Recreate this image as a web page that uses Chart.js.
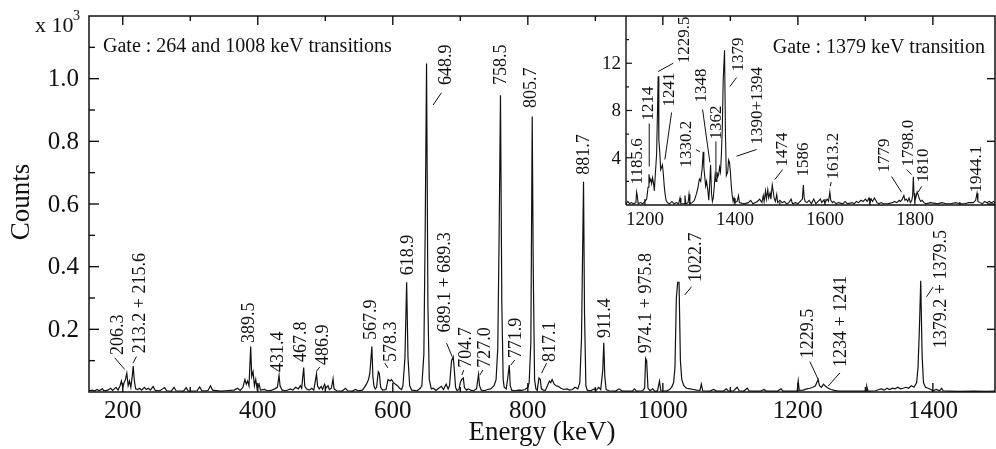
<!DOCTYPE html>
<html>
<head>
<meta charset="utf-8">
<script src="https://cdn.jsdelivr.net/npm/chart.js@4.4.1/dist/chart.umd.min.js"></script>
<style>
  html, body { margin: 0; padding: 0; background: #fff; overflow: hidden; }
  #wrap { position: relative; width: 996px; height: 449px; }
  #inset { position: absolute; left: 580px; top: 0; z-index: 1; }
  #main { position: absolute; left: 0; top: 0; z-index: 2; }
</style>
</head>
<body>
<div id="wrap">
  <canvas id="inset" width="416" height="240"></canvas>
  <canvas id="main" width="996" height="449"></canvas>
</div>
<script>
// ---------------- DATA: main spectrum (energy keV, counts x10^3) ----------------
const mainEnergy = [
  150,155,158,162,165,170,172,178,182,185,190,193,196,198,200,202,204,206,208,210,
  212,214,215.5,217,219,222,225,228,232,235,238,241,245,248,255,262,265,272,276,279,
  290,294,297,310,314,317,326,330,333,345,352,365,370,374,378,381,383,385,387,389.5,
  391,393,395,397,399,402,404,410,414,420,425,429,431.5,433,436,442,448,452,456,460,
  463,465,468,469.5,472,476,480,483,487,488.5,491,494,496,499,501,504,506,509,511.5,513,
  517,525,530,533,540,545,548,555,558,561,564,566,569,570.5,572,574,576,578.5,580,582,
  585,590,593,596,598,601,604,607,610,613,615,618,620.5,622.5,625,628,632,636,640,643,
  646,648,650,652,654,657,660,664,668,672,675,679,682,684,687,689.5,691.5,693,695,698,
  700,702,704.5,706,709,712,716,720,724,727,728.5,731,736,740,745,750,753,755.5,757.5,759.5,
  761.5,763.5,765,768,770,772.5,774,776,781,786,791,796,800,802,804.5,806.5,808,810,812,814,
  816.5,818.5,820,823,826,829,832,834,836,839,842,845,849,853,858,862,866,870,874,877,
  879.5,882.5,884,886,888,893,898,901,905,908,911,912.5,914,916,920,930,935,940,955,958,
  961,970,973,974.5,976,978,981,985,988,992,995,997,1005,1010,1013,1016,1018,1020,1022,1024,
  1026,1028,1031,1035,1040,1045,1050,1055,1057,1059,1070,1075,1080,1090,1094,1097,1105,1110,1113,1120,
  1125,1128,1145,1150,1153,1170,1175,1178,1195,1199,1200.5,1202,1208,1213,1218,1222,1226,1230,1232,1235,
  1238,1241,1245,1249,1254,1260,1275,1290,1301,1302,1304,1315,1320,1324,1328,1332,1336,1340,1344,1348,
  1352,1356,1360,1364,1368,1372,1376,1378,1380,1382,1384,1386,1389,1393,1397,1400,1405,1410,1413,1415,
  1425,1440,1460,1480,1492
];
const mainCounts = [
  0.004,0.006,0.003,0.008,0.004,0.010,0.004,0.006,0.012,0.005,0.015,0.006,0.020,0.035,0.015,0.030,0.040,0.060,0.020,0.035,
  0.015,0.050,0.083,0.040,0.010,0.008,0.012,0.006,0.015,0.008,0.012,0.006,0.018,0.005,0.004,0.014,0.004,0.003,0.015,0.004,
  0.003,0.014,0.003,0.004,0.016,0.004,0.004,0.020,0.006,0.003,0.004,0.006,0.012,0.005,0.015,0.040,0.025,0.035,0.020,0.145,
  0.050,0.065,0.020,0.040,0.010,0.025,0.006,0.008,0.004,0.005,0.010,0.015,0.053,0.020,0.006,0.004,0.010,0.006,0.015,0.010,
  0.020,0.012,0.078,0.020,0.010,0.006,0.012,0.006,0.058,0.020,0.010,0.018,0.008,0.025,0.012,0.020,0.008,0.012,0.042,0.010,
  0.004,0.003,0.012,0.004,0.003,0.008,0.004,0.006,0.015,0.025,0.040,0.060,0.145,0.050,0.020,0.010,0.015,0.065,0.060,0.015,
  0.006,0.008,0.040,0.035,0.040,0.030,0.025,0.020,0.012,0.008,0.020,0.110,0.350,0.110,0.020,0.006,0.005,0.004,0.010,0.020,
  0.120,0.520,1.048,0.280,0.040,0.010,0.012,0.005,0.012,0.018,0.008,0.025,0.010,0.020,0.100,0.112,0.060,0.015,0.005,0.008,
  0.030,0.040,0.045,0.015,0.006,0.010,0.005,0.004,0.010,0.056,0.020,0.006,0.004,0.008,0.010,0.020,0.040,0.140,0.500,0.947,
  0.280,0.040,0.015,0.010,0.040,0.086,0.020,0.006,0.004,0.006,0.005,0.008,0.015,0.030,0.160,0.879,0.400,0.040,0.010,0.005,
  0.045,0.040,0.010,0.006,0.005,0.020,0.035,0.030,0.040,0.025,0.020,0.018,0.012,0.008,0.010,0.006,0.008,0.015,0.010,0.030,
  0.170,0.671,0.250,0.020,0.006,0.004,0.010,0.005,0.015,0.008,0.070,0.157,0.050,0.008,0.004,0.003,0.010,0.003,0.003,0.010,
  0.003,0.004,0.012,0.107,0.100,0.012,0.004,0.010,0.003,0.003,0.035,0.004,0.003,0.008,0.015,0.030,0.080,0.300,0.350,0.350,
  0.100,0.040,0.020,0.012,0.010,0.008,0.006,0.005,0.025,0.004,0.003,0.008,0.003,0.003,0.010,0.003,0.004,0.015,0.004,0.003,
  0.012,0.003,0.003,0.008,0.003,0.003,0.010,0.003,0.003,0.003,0.035,0.005,0.006,0.010,0.012,0.015,0.020,0.040,0.020,0.015,
  0.025,0.018,0.012,0.008,0.005,0.003,0.003,0.003,0.003,0.018,0.003,0.004,0.008,0.010,0.006,0.012,0.008,0.012,0.010,0.015,
  0.010,0.012,0.015,0.012,0.020,0.015,0.030,0.080,0.200,0.355,0.120,0.030,0.015,0.012,0.008,0.004,0.008,0.004,0.012,0.004,
  0.003,0.002,0.003,0.002,0.003
];

// ---------------- DATA: inset spectrum (energy keV, counts) ----------------
const insetEnergy = [
  1158,1162,1166,1170,1175,1180,1181.5,1183,1185,1190,1195,1200,1204,1207,1209,1211,1213,1215,1217,1219,
  1221,1223,1226,1228,1229.5,1231,1233,1235,1237,1239,1241,1243,1245,1247,1250,1255,1260,1265,1270,1275,
  1278,1280,1287,1289,1291,1296,1298,1300,1305,1310,1315,1318,1321,1324,1327,1329.5,1331,1333,1335,1337,
  1340,1342,1344,1346,1348,1350,1352,1354,1356,1358,1360,1362,1364,1366,1368,1370,1372,1374,1377,1379,
  1381,1384,1386,1388,1390,1392,1394,1396,1398,1400,1405,1408,1410,1420,1430,1435,1440,1450,1455,1460,
  1463,1465,1468,1470,1473,1475,1478,1480,1483,1485,1487,1490,1493,1495,1500,1505,1510,1515,1520,1525,
  1528,1535,1540,1545,1550,1552,1554,1556,1560,1565,1570,1575,1580,1585,1590,1593,1597,1600,1605,1608,
  1611,1613,1617,1620,1625,1630,1640,1645,1650,1660,1665,1670,1675,1680,1685,1690,1694,1698,1700,1703,
  1706,1710,1713,1716,1720,1725,1730,1740,1750,1755,1760,1765,1768,1772,1775.5,1778,1781,1784,1787,1790,
  1793,1795,1796.5,1798,1800,1802,1805,1807,1810,1813,1816,1820,1825,1835,1850,1860,1870,1880,1890,1900,
  1910,1920,1930,1935,1938,1940,1945,1950,1955,1960,1965,1970,1975,1978
];
const insetCounts = [
  0.1,0.3,0.1,0.2,0.1,0.2,1.1,0.8,0.1,0.2,0.1,0.3,0.5,1.5,2.6,2.0,2.2,1.8,2.3,1.9,
  1.2,2.5,4.3,8.0,10.9,5.5,4.5,3.0,3.2,3.4,2.6,1.6,0.9,0.4,0.2,0.1,0.3,0.1,0.2,0.1,
  0.6,0.1,0.1,0.8,0.1,0.2,0.9,0.1,0.2,0.4,1.0,1.5,2.2,2.0,3.0,4.5,3.2,2.4,1.6,2.0,
  1.2,0.4,1.8,3.4,1.0,0.3,0.6,1.5,2.5,2.0,2.8,2.4,2.6,3.2,2.8,4.3,6.5,10.6,13.1,6.0,
  2.5,2.8,3.8,3.6,2.8,1.6,0.8,0.3,0.6,0.2,0.3,0.8,0.2,0.1,0.2,0.4,0.1,0.3,0.5,0.2,
  0.8,0.3,1.2,0.5,1.3,0.6,1.0,0.5,1.7,1.2,0.6,0.3,0.9,0.2,0.4,0.2,0.3,0.1,0.2,0.5,
  0.1,0.2,0.1,0.3,0.5,1.7,0.6,0.3,0.2,0.4,0.1,0.5,0.1,0.3,0.5,0.2,0.4,0.2,0.5,0.3,
  1.1,0.4,0.2,0.3,0.1,0.2,0.1,0.3,0.1,0.2,0.1,0.3,0.2,0.4,0.3,0.5,0.3,0.6,0.2,0.5,
  0.3,0.6,0.4,0.2,0.1,0.2,0.1,0.1,0.2,0.3,0.2,0.4,0.3,0.5,0.8,0.4,0.5,0.3,0.6,0.2,
  0.4,0.8,2.4,1.0,0.4,0.6,1.1,0.9,0.5,0.3,0.4,0.2,0.1,0.2,0.1,0.2,0.1,0.1,0.2,0.1,
  0.1,0.2,0.2,0.4,1.0,0.3,0.2,0.1,0.3,0.2,0.3,0.2,0.3,0.2
];

// ---------------- TICKS ----------------
const mainXTicks = [200, 400, 600, 800, 1000, 1200, 1400];
const mainXMinor = [300, 500, 700, 900, 1100, 1300];
const mainYTicks = [0.2, 0.4, 0.6, 0.8, 1.0];
const mainYTickLabels = ['0.2', '0.4', '0.6', '0.8', '1.0'];
const mainYMinor = [0.1, 0.3, 0.5, 0.7, 0.9, 1.1];
const insetXTicks = [1200, 1400, 1600, 1800];
const insetXMinor = [1300, 1500, 1700, 1900];
const insetYTicks = [4, 8, 12];
const insetYMinor = [2, 6, 10, 14];

// ---------------- PEAK LABELS ----------------
const mainPeakText = ['206.3','213.2 + 215.6','389.5','431.4','467.8','486.9','567.9','578.3','618.9','648.9',
  '689.1 + 689.3','704.7','727.0','758.5','771.9','805.7','817.1','881.7','911.4','974.1 + 975.8',
  '1022.7','1229.5','1234 + 1241','1379.2 + 1379.5'];
const insetPeakText = ['1185.6','1214','1229.5','1241','1330.2','1348','1362','1379','1390+1394','1474',
  '1586','1613.2','1779','1798.0','1810','1944.1'];

// label anchors (energy, count) = bottom-centre of the rotated text; optional leader line
const mainLabelLayout = [
  {e:193, v:0.118, l:[188.1,0.109,203,0.072]},
  {e:225.2, v:0.124, l:[220.3,0.113,215,0.092]},
  {e:388.1, v:0.156},
  {e:430.1, v:0.064},
  {e:464.7, v:0.096},
  {e:496.7, v:0.086, l:[491.9,0.080,487.4,0.067]},
  {e:568.4, v:0.166},
  {e:598, v:0.096, l:[588.1,0.092,592.6,0.077]},
  {e:622.7, v:0.373},
  {e:679.6, v:0.98, l:[672.1,0.955,659.7,0.916]},
  {e:677, v:0.19, l:[679.6,0.156,687.9,0.113]},
  {e:709.2, v:0.077, l:[705.2,0.070,702.2,0.054]},
  {e:736.3, v:0.077, l:[733.3,0.070,728.9,0.054]},
  {e:761, v:0.98},
  {e:783.3, v:0.108, l:[780.7,0.102,774.8,0.086]},
  {e:804.4, v:0.906},
  {e:832.6, v:0.096, l:[827.7,0.092,820.3,0.060]},
  {e:883.4, v:0.693},
  {e:914.1, v:0.172},
  {e:975.8, v:0.124},
  {e:1049.9, v:0.351, l:[1042.5,0.336,1032.6,0.310]},
  {e:1215.3, v:0.108, l:[1217.8,0.097,1230.1,0.040]},
  {e:1264.7, v:0.080, l:[1262.2,0.061,1244.9,0.019]},
  {e:1412.8, v:0.140, l:[1400.4,0.335,1390.6,0.304]}
];
const insetLabelLayout = [
  {e:1184.4, v:1.74},
  {e:1207.3, v:7.15, l:[1209.6,6.9,1209.6,3.26]},
  {e:1287.3, v:12.0, l:[1262.9,12.0,1229.6,11.3]},
  {e:1255.6, v:8.34, l:[1259.3,7.83,1244.4,3.85]},
  {e:1292.7, v:3.18, l:[1313.3,4.7,1322.2,4.5]},
  {e:1326, v:8.68, l:[1328.2,8.09,1344.4,3.6]},
  {e:1359.3, v:5.55, l:[1357.8,5.38,1357.8,2.41]},
  {e:1408.9, v:11.3, l:[1403.8,10.8,1388.9,10.03]},
  {e:1450.4, v:5.12, l:[1448.2,4.7,1403.8,4.13]},
  {e:1506, v:3.26, l:[1506,3.0,1488.9,2.16]},
  {e:1551.8, v:2.41},
  {e:1618.4, v:2.16, l:[1614,1.95,1612,1.6]},
  {e:1733.3, v:2.75, l:[1748.2,2.41,1770.4,1.08]},
  {e:1785.1, v:3.26, l:[1781.5,3.0,1792.6,2.58]},
  {e:1818.4, v:1.9, l:[1814.8,1.57,1807.3,1.08]},
  {e:1937.1, v:1.06}
];

// ---------------- DRAWING HELPERS ----------------
const SERIF = "'Liberation Serif', 'Times New Roman', serif";
function vtext(ctx, text, x, y, font) {
  ctx.save();
  ctx.translate(x, y);
  ctx.rotate(-Math.PI / 2);
  ctx.font = font;
  ctx.textAlign = 'left';
  ctx.textBaseline = 'middle';
  ctx.fillText(text, 0, 0);
  ctx.restore();
}
function line(ctx, x1, y1, x2, y2) {
  ctx.beginPath(); ctx.moveTo(x1, y1); ctx.lineTo(x2, y2); ctx.stroke();
}
function drawLabels(chart, texts, layout, font) {
  const ctx = chart.ctx, xs = chart.scales.x, ys = chart.scales.y;
  ctx.save();
  ctx.fillStyle = '#111'; ctx.strokeStyle = '#111'; ctx.lineWidth = 1;
  texts.forEach((t, i) => {
    const L = layout[i];
    vtext(ctx, t, xs.getPixelForValue(L.e), ys.getPixelForValue(L.v), font);
    if (L.l) {
      line(ctx, xs.getPixelForValue(L.l[0]), ys.getPixelForValue(L.l[1]),
                xs.getPixelForValue(L.l[2]), ys.getPixelForValue(L.l[3]));
    }
  });
  ctx.restore();
}

const mainDecor = {
  id: 'mainDecor',
  afterDraw(chart) {
    const ctx = chart.ctx, a = chart.chartArea, xs = chart.scales.x, ys = chart.scales.y;
    ctx.save();
    ctx.strokeStyle = '#111'; ctx.lineWidth = 1.5;
    ctx.strokeRect(a.left, a.top, a.right - a.left, a.bottom - a.top);
    ctx.lineWidth = 1.4;
    mainXTicks.forEach(v => { const x = xs.getPixelForValue(v);
      line(ctx, x, a.top, x, a.top + 9); line(ctx, x, a.bottom, x, a.bottom - 9); });
    mainXMinor.forEach(v => { const x = xs.getPixelForValue(v);
      line(ctx, x, a.top, x, a.top + 5); line(ctx, x, a.bottom, x, a.bottom - 5); });
    mainYTicks.forEach(v => { const y = ys.getPixelForValue(v);
      line(ctx, a.left, y, a.left + 10, y); line(ctx, a.right, y, a.right - 8, y); });
    mainYMinor.forEach(v => { const y = ys.getPixelForValue(v);
      line(ctx, a.left, y, a.left + 6, y); });
    // tick labels
    ctx.fillStyle = '#111';
    ctx.font = '25px ' + SERIF;
    ctx.textAlign = 'center'; ctx.textBaseline = 'middle';
    mainXTicks.forEach(v => ctx.fillText(String(v), xs.getPixelForValue(v), a.bottom + 19));
    ctx.textAlign = 'right';
    mainYTicks.forEach((v, i) => ctx.fillText(mainYTickLabels[i], a.left - 10, ys.getPixelForValue(v) + 1));
    // multiplier
    ctx.textAlign = 'left'; ctx.textBaseline = 'alphabetic';
    ctx.font = '22px ' + SERIF; ctx.fillText('x 10', 35, 32);
    ctx.font = '14px ' + SERIF; ctx.fillText('3', 73, 20);
    // titles
    ctx.font = '27px ' + SERIF; ctx.textAlign = 'center'; ctx.textBaseline = 'middle';
    ctx.fillText('Energy (keV)', (a.left + a.right) / 2, 433);
    ctx.save(); ctx.translate(22, 202); ctx.rotate(-Math.PI / 2);
    ctx.fillText('Counts', 0, 0); ctx.restore();
    // gate text
    ctx.font = '20px ' + SERIF; ctx.textAlign = 'left';
    ctx.fillText('Gate : 264 and 1008 keV transitions', a.left + 14, a.top + 31);
    ctx.restore();
    drawLabels(chart, mainPeakText, mainLabelLayout, '18px ' + SERIF);
  }
};

const insetDecor = {
  id: 'insetDecor',
  beforeDatasetsDraw(chart) {
    const ctx = chart.ctx, a = chart.chartArea;
    ctx.save(); ctx.fillStyle = '#fff';
    ctx.fillRect(a.left, a.top, a.right - a.left, a.bottom - a.top);
    ctx.restore();
  },
  afterDraw(chart) {
    const ctx = chart.ctx, a = chart.chartArea, xs = chart.scales.x, ys = chart.scales.y;
    ctx.save();
    ctx.strokeStyle = '#111'; ctx.lineWidth = 1.4;
    line(ctx, a.left, a.top, a.left, a.bottom);
    line(ctx, a.left, a.bottom, a.right, a.bottom);
    ctx.lineWidth = 1.2;
    insetXTicks.forEach(v => { const x = xs.getPixelForValue(v); line(ctx, x, a.bottom, x, a.bottom - 6); });
    insetXMinor.forEach(v => { const x = xs.getPixelForValue(v); line(ctx, x, a.bottom, x, a.bottom - 3); });
    insetYTicks.forEach(v => { const y = ys.getPixelForValue(v); line(ctx, a.left, y, a.left + 6, y); });
    insetYMinor.forEach(v => { const y = ys.getPixelForValue(v); line(ctx, a.left, y, a.left + 3, y); });
    ctx.fillStyle = '#111';
    ctx.font = '19px ' + SERIF;
    ctx.textAlign = 'center'; ctx.textBaseline = 'middle';
    insetXTicks.forEach(v => ctx.fillText(String(v), xs.getPixelForValue(v), a.bottom + 15));
    ctx.textAlign = 'right';
    insetYTicks.forEach(v => ctx.fillText(String(v), a.left - 5, ys.getPixelForValue(v) + 1));
    ctx.textAlign = 'left';
    ctx.font = '20px ' + SERIF;
    ctx.fillText('Gate : 1379 keV transition', xs.getPixelForValue(1484), a.top + 32);
    ctx.restore();
    drawLabels(chart, insetPeakText, insetLabelLayout, '17px ' + SERIF);
  }
};

function makeChart(id, xs, ys, xmin, xmax, ymax, pad, plugin, lw) {
  return new Chart(document.getElementById(id), {
    type: 'line',
    data: { datasets: [{
      data: xs.map((e, i) => ({ x: e, y: ys[i] })),
      borderColor: '#111', borderWidth: lw, pointRadius: 0, tension: 0, fill: false
    }]},
    options: {
      animation: false, responsive: false, devicePixelRatio: 1,
      layout: { padding: pad },
      plugins: { legend: { display: false }, tooltip: { enabled: false }, title: { display: false } },
      scales: {
        x: { type: 'linear', min: xmin, max: xmax, display: false },
        y: { type: 'linear', min: 0, max: ymax, display: false }
      }
    },
    plugins: [plugin]
  });
}

makeChart('inset', insetEnergy, insetCounts, 1158, 1978, 16,
  { left: 46, top: 16, right: 1, bottom: 35 }, insetDecor, 1.1);
makeChart('main', mainEnergy, mainCounts, 150, 1492, 1.2,
  { left: 89, top: 16, right: 1, bottom: 57 }, mainDecor, 1.2);
</script>
</body>
</html>
